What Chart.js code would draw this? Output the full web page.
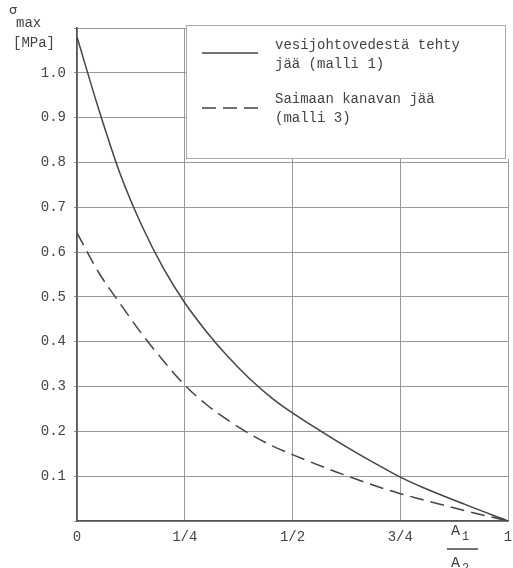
<!DOCTYPE html>
<html>
<head>
<meta charset="utf-8">
<script src="https://cdn.jsdelivr.net/npm/chart.js@4/dist/chart.umd.min.js"></script>
<style>
  html, body { margin: 0; padding: 0; background: #fff; }
</style>
</head>
<body>
<canvas id="iceChart" width="513" height="568"></canvas>
<script>
// series (x = A1/A2, y = sigma max in MPa)
const tapWaterX = [0, 0.05, 0.1, 0.15, 0.2, 0.25, 0.3, 0.35, 0.4, 0.45, 0.5, 0.6, 0.7, 0.75, 0.8, 0.9, 1];
const tapWaterY = [1.08, 0.92, 0.775, 0.66, 0.565, 0.487, 0.423, 0.367, 0.318, 0.276, 0.241, 0.18, 0.124, 0.098, 0.076, 0.037, 0];
const saimaaX = [0, 0.05, 0.1, 0.15, 0.2, 0.25, 0.3, 0.35, 0.4, 0.45, 0.5, 0.6, 0.7, 0.75, 0.8, 0.9, 1];
const saimaaY = [0.643, 0.555, 0.485, 0.418, 0.358, 0.303, 0.26, 0.225, 0.195, 0.169, 0.148, 0.11, 0.076, 0.061, 0.048, 0.023, 0];

const legendLabels = [
  ["vesijohtovedestä tehty", "jää (malli 1)"],
  ["Saimaan kanavan jää", "(malli 3)"],
];
const xTickLabels = ["0", "1/4", "1/2", "3/4", "1"];
const yTitle = { symbol: "σ", sub: "max", unit: "[MPa]" };
const xTitle = { top: "A", topSub: "1", bottom: "A", bottomSub: "2" };

const monoFont = "'Liberation Mono', 'DejaVu Sans Mono', monospace";
const inkColor = "#444";

const toPoints = (xs, ys) => xs.map((x, i) => ({ x: x, y: ys[i] }));

// legend box drawn inside the plot, plus the axis titles
const decorations = {
  id: "decorations",
  afterDraw(chart) {
    const ctx = chart.ctx;
    ctx.save();

    // legend
    ctx.fillStyle = "#fff";
    ctx.fillRect(186, 24, 327, 135);
    ctx.strokeStyle = "#aaa";
    ctx.lineWidth = 1;
    ctx.strokeRect(186.5, 25.5, 319, 133);

    ctx.strokeStyle = inkColor;
    ctx.lineWidth = 1.5;
    ctx.beginPath();
    ctx.moveTo(202, 53);
    ctx.lineTo(258, 53);
    ctx.stroke();
    ctx.setLineDash([14, 7]);
    ctx.beginPath();
    ctx.moveTo(202, 108);
    ctx.lineTo(258, 108);
    ctx.stroke();
    ctx.setLineDash([]);

    ctx.fillStyle = inkColor;
    ctx.font = "14px " + monoFont;
    ctx.textBaseline = "middle";
    ctx.textAlign = "left";
    ctx.fillText(legendLabels[0][0], 275, 45);
    ctx.fillText(legendLabels[0][1], 275, 64);
    ctx.fillText(legendLabels[1][0], 275, 99);
    ctx.fillText(legendLabels[1][1], 275, 118);

    // y axis title
    ctx.font = "13px 'DejaVu Sans'";
    ctx.fillText(yTitle.symbol, 9, 11);
    ctx.font = "14px " + monoFont;
    ctx.fillText(yTitle.sub, 16, 23);
    ctx.fillText(yTitle.unit, 13, 43);

    // x axis title as a fraction
    ctx.font = "15px " + monoFont;
    ctx.fillText(xTitle.top, 451, 531);
    ctx.font = "12px " + monoFont;
    ctx.fillText(xTitle.topSub, 462, 537);
    ctx.strokeStyle = inkColor;
    ctx.lineWidth = 1.5;
    ctx.beginPath();
    ctx.moveTo(447, 549);
    ctx.lineTo(478, 549);
    ctx.stroke();
    ctx.font = "15px " + monoFont;
    ctx.fillText(xTitle.bottom, 451, 563);
    ctx.font = "12px " + monoFont;
    ctx.fillText(xTitle.bottomSub, 462, 569);

    ctx.restore();
  },
};

const ctx = document.getElementById("iceChart").getContext("2d");
const iceChart = new Chart(ctx, {
  type: "line",
  data: {
    datasets: [
      {
        label: legendLabels[0].join(" "),
        data: toPoints(tapWaterX, tapWaterY),
        borderColor: inkColor,
        borderWidth: 1.5,
        pointRadius: 0,
        cubicInterpolationMode: "monotone",
      },
      {
        label: legendLabels[1].join(" "),
        data: toPoints(saimaaX, saimaaY),
        borderColor: inkColor,
        borderWidth: 1.5,
        borderDash: [14, 7],
        pointRadius: 0,
        cubicInterpolationMode: "monotone",
      },
    ],
  },
  options: {
    responsive: false,
    animation: false,
    layout: {
      padding: { left: 0, right: 5, top: 28, bottom: 0 },
    },
    plugins: {
      legend: { display: false },
      tooltip: { enabled: false },
    },
    scales: {
      x: {
        type: "linear",
        min: 0,
        max: 1,
        afterFit: (scale) => {
          scale.height = 47;
          // let the last label hang off the right edge like the original
          scale.paddingLeft = 0;
          scale.paddingRight = 0;
        },
        ticks: {
          stepSize: 0.25,
          padding: 8,
          color: inkColor,
          font: { family: monoFont, size: 14 },
          maxRotation: 0,
          callback: (value) => xTickLabels[Math.round(value * 4)],
        },
        grid: {
          color: "#999",
          lineWidth: 1,
          tickLength: 0,
        },
        border: { color: "#555", width: 1.5 },
      },
      y: {
        min: 0,
        max: 1.1,
        afterFit: (scale) => {
          scale.width = 77;
        },
        ticks: {
          stepSize: 0.1,
          padding: 8,
          color: inkColor,
          font: { family: monoFont, size: 14 },
          callback: (value) => (value > 0.05 && value < 1.05 ? value.toFixed(1) : ""),
        },
        grid: {
          color: "#999",
          lineWidth: 1,
          tickLength: 3,
        },
        border: { color: "#555", width: 1.5 },
      },
    },
  },
  plugins: [decorations],
});
</script>
</body>
</html>
